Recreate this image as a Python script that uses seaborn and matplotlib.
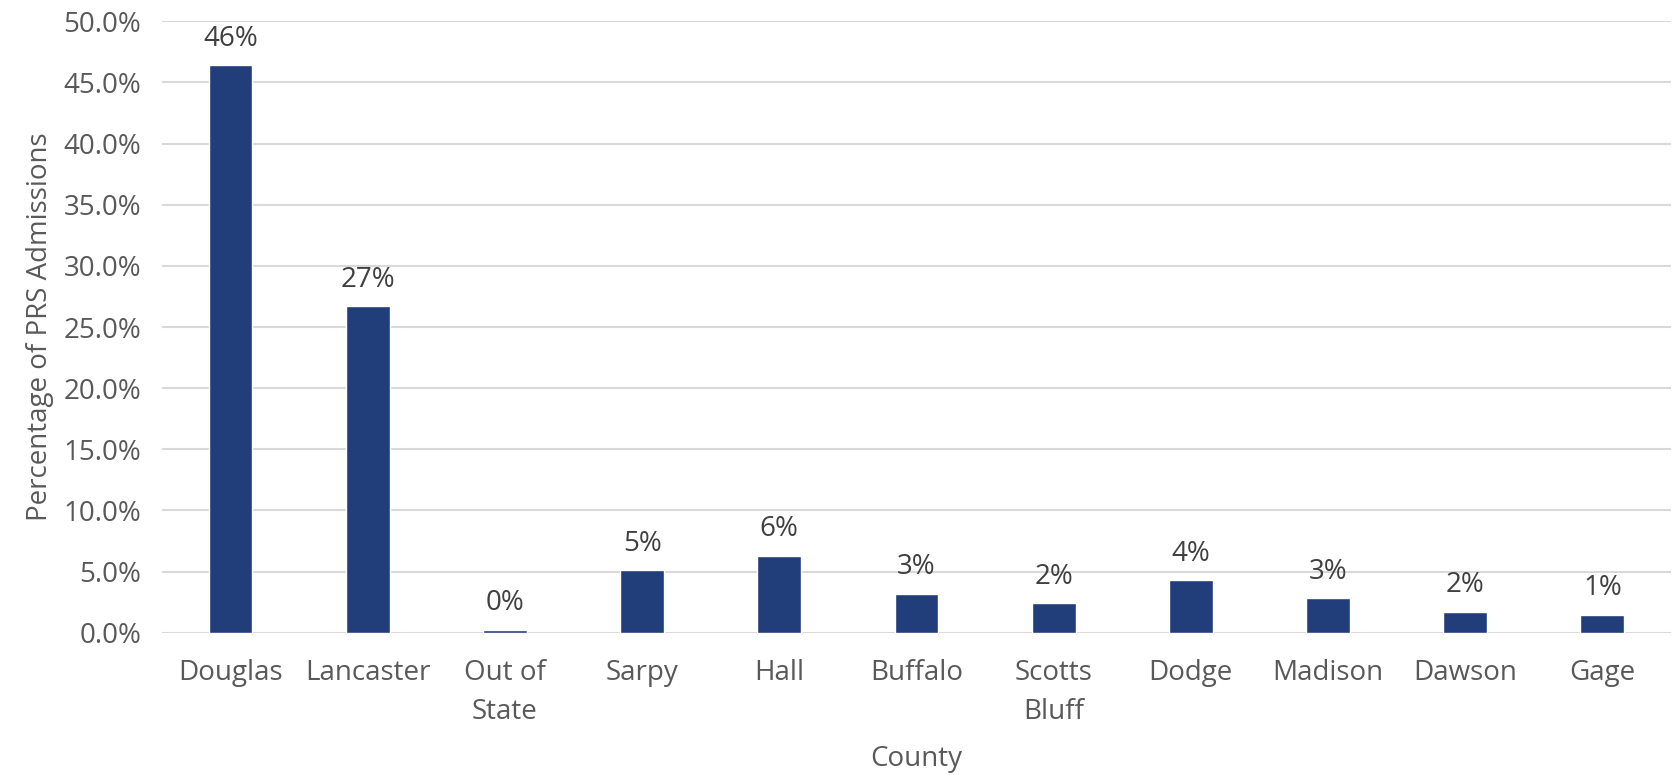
import matplotlib
matplotlib.use("Agg")
import matplotlib.pyplot as plt
import seaborn as sns
import pandas as pd
from matplotlib.ticker import PercentFormatter

counties = ["Douglas", "Lancaster", "Out of\nState", "Sarpy", "Hall", "Buffalo",
            "Scotts\nBluff", "Dodge", "Madison", "Dawson", "Gage"]
shares = [46.4, 26.7, 0.25, 5.1, 6.3, 3.2, 2.4, 4.3, 2.8, 1.7, 1.45]
value_labels = ["46%", "27%", "0%", "5%", "6%", "3%", "2%", "4%", "3%", "2%", "1%"]
y_ticks = [0, 5, 10, 15, 20, 25, 30, 35, 40, 45, 50]

df = pd.DataFrame({"County": counties, "Share": shares})

sns.set_theme(style="white")
plt.rcParams["font.family"] = ["Open Sans", "DejaVu Sans"]

fig = plt.figure(figsize=(16.73, 7.75), dpi=100)
ax = fig.add_axes([0.0968, 0.1836, 0.902, 0.7889])

bar_color = "#223E7A"
sns.barplot(data=df, x="County", y="Share", color=bar_color, width=0.32,
            saturation=1, ax=ax)

ax.set_ylim(0, 50)
ax.set_xlim(-0.5, len(counties) - 0.5)
ax.set_yticks(y_ticks)
ax.yaxis.set_major_formatter(PercentFormatter(decimals=1))
ax.grid(axis="y", color="#D9D9D9", linewidth=1.5)
ax.set_axisbelow(True)
for side in ["left", "right", "top", "bottom"]:
    ax.spines[side].set_visible(False)

ax.tick_params(axis="y", length=0, pad=15, labelsize=20, labelcolor="#595959")
ax.tick_params(axis="x", length=0, pad=19, labelsize=20, labelcolor="#595959")
for lbl in ax.get_xticklabels():
    lbl.set_linespacing(1.5)

ax.set_xlabel("County", fontsize=20, color="#595959", labelpad=14)
ax.set_ylabel("Percentage of PRS Admissions", fontsize=20, color="#595959", labelpad=7)

for patch, text in zip(ax.patches, value_labels):
    x = patch.get_x() + patch.get_width() / 2
    ax.annotate(text, (x, patch.get_height()), xytext=(0, 9),
                textcoords="offset points", ha="center", va="bottom",
                fontsize=20, color="#404040")

fig.savefig("out.png", dpi=100)
